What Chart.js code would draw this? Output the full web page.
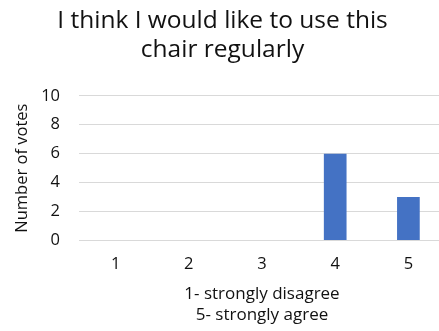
<!DOCTYPE html>
<html>
<head>
<meta charset="utf-8">
<script src="https://cdn.jsdelivr.net/npm/chart.js@4/dist/chart.umd.min.js"></script>
<style>
  html, body { margin: 0; padding: 0; background: #fff; overflow: hidden; }
  #wrap { width: 439px; height: 331px; overflow: hidden; }
  canvas { display: block; }
</style>
</head>
<body>
<div id="wrap"><canvas id="c" width="450" height="331"></canvas></div>
<script>
// Survey responses on a 1–5 agreement scale
const categories = ['1', '2', '3', '4', '5'];
const votes = [0, 0, 0, 6, 3];
const yTicks = [0, 2, 4, 6, 8, 10];
const titleLines = ['I think I would like to use this', 'chair regularly'];
const xTitleLines = ['1- strongly disagree', '5- strongly agree'];
const yTitle = 'Number of votes';

const FONT = '"Open Sans", "Liberation Sans", sans-serif';
const INK = '#111111';

new Chart(document.getElementById('c'), {
  type: 'bar',
  data: {
    labels: categories,
    datasets: [{
      data: votes,
      backgroundColor: '#4472C4',
      borderWidth: 0,
      barPercentage: 0.31,
      categoryPercentage: 1.0
    }]
  },
  options: {
    responsive: false,
    animation: false,
    layout: { padding: { left: 0, right: 5, top: 0, bottom: 0 } },
    plugins: {
      legend: { display: false },
      tooltip: { enabled: false },
      title: {
        display: true,
        text: titleLines,
        color: INK,
        font: { family: FONT, size: 24.5, weight: 'normal', lineHeight: 1.18 },
        padding: { top: 6.5, bottom: 31.5 }
      }
    },
    scales: {
      x: {
        grid: { display: false, drawTicks: false },
        border: { display: false },
        ticks: { color: INK, font: { family: FONT, size: 16.5 }, padding: 14 },
        title: {
          display: true,
          text: xTitleLines,
          color: INK,
          font: { family: FONT, size: 17, lineHeight: 1.24 },
          padding: { top: 0, bottom: 5.5 }
        },
        afterFit: (s) => { s.height = 90.5; }
      },
      y: {
        min: 0,
        max: 10,
        afterBuildTicks: (s) => { s.ticks = yTicks.map(v => ({ value: v })); },
        grid: { color: '#d9d9d9', lineWidth: 1, drawTicks: false },
        border: { display: false },
        ticks: { color: INK, font: { family: FONT, size: 16.5 }, padding: 19 },
        title: {
          display: true,
          text: yTitle,
          color: INK,
          font: { family: FONT, size: 16.5, lineHeight: 1.2 },
          padding: { top: 12, bottom: 0 }
        },
        afterFit: (s) => { s.width = 79; }
      }
    }
  }
});
</script>
</body>
</html>
